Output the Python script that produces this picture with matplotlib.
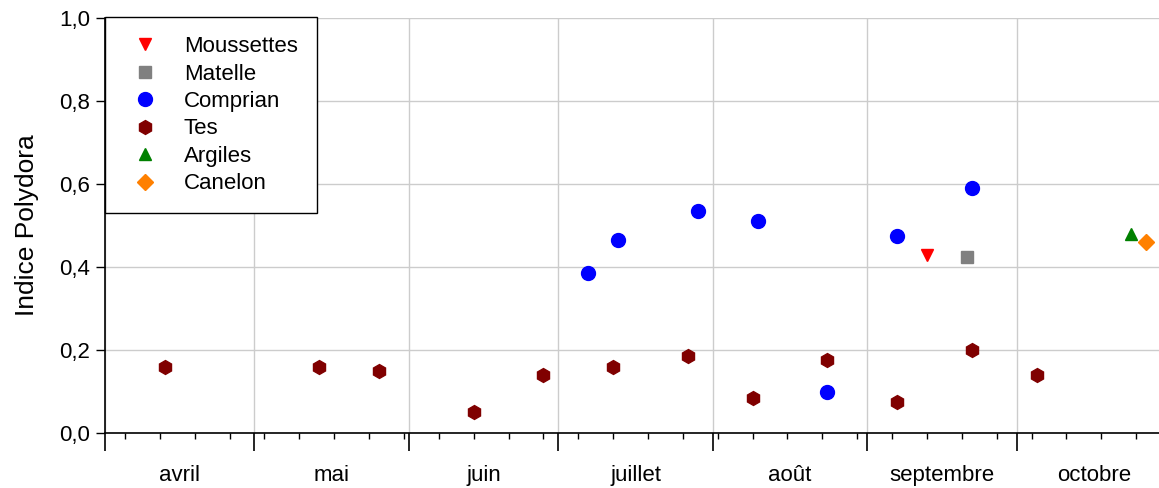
import matplotlib
matplotlib.use("Agg")
import matplotlib.pyplot as plt
import matplotlib.dates as mdates
from matplotlib.ticker import FuncFormatter, MultipleLocator, NullFormatter, FixedLocator
import pandas as pd

plt.rcParams['font.family'] = ['Liberation Sans', 'DejaVu Sans']

# sampling dates and Polydora index per site
tes_dates = ["2010-04-13", "2010-05-14", "2010-05-26", "2010-06-14", "2010-06-28",
             "2010-07-12", "2010-07-27", "2010-08-09", "2010-08-24", "2010-09-07",
             "2010-09-22", "2010-10-05"]
tes_vals = [0.16, 0.16, 0.15, 0.05, 0.14, 0.16, 0.185, 0.085, 0.175, 0.075, 0.20, 0.14]

comprian_dates = ["2010-07-07", "2010-07-13", "2010-07-29", "2010-08-10", "2010-08-24",
                  "2010-09-07", "2010-09-22"]
comprian_vals = [0.385, 0.465, 0.535, 0.51, 0.10, 0.475, 0.59]

moussettes_dates = ["2010-09-13"]
moussettes_vals = [0.43]
matelle_dates = ["2010-09-21"]
matelle_vals = [0.425]
argiles_dates = ["2010-10-24"]
argiles_vals = [0.48]
canelon_dates = ["2010-10-27"]
canelon_vals = [0.46]

months = ["avril", "mai", "juin", "juillet", "août", "septembre", "octobre"]
month_starts = ["2010-04-01", "2010-05-01", "2010-06-01", "2010-07-01",
                "2010-08-01", "2010-09-01", "2010-10-01", "2010-11-01"]

fig = plt.figure(figsize=(11.59, 4.88), dpi=100)
ax = fig.add_axes([105 / 1159, 55 / 488, 1 - 105 / 1159, 415 / 488])

d = lambda s: pd.to_datetime(s)

ax.plot(d(moussettes_dates), moussettes_vals, linestyle="none", marker="v",
        color="#ff0000", markersize=9, label="Moussettes", zorder=3)
ax.plot(d(matelle_dates), matelle_vals, linestyle="none", marker="s",
        color="#808080", markersize=8, label="Matelle", zorder=3)
ax.plot(d(comprian_dates), comprian_vals, linestyle="none", marker="o",
        color="#0000ff", markersize=10, label="Comprian", zorder=3)
ax.plot(d(tes_dates), tes_vals, linestyle="none", marker="h",
        color="#800000", markersize=10, label="Tes", zorder=3)
ax.plot(d(argiles_dates), argiles_vals, linestyle="none", marker="^",
        color="#008000", markersize=9, label="Argiles", zorder=3)
ax.plot(d(canelon_dates), canelon_vals, linestyle="none", marker="D",
        color="#ff8000", markersize=8, label="Canelon", zorder=3)

ax.set_xlim(d("2010-04-01"), d("2010-10-29 14:00"))
ax.set_ylim(0, 1.0)

# month boundaries as major ticks, weekly minor ticks
bounds = [mdates.date2num(d(s)) for s in month_starts]
ax.xaxis.set_major_locator(FixedLocator(bounds))
ax.xaxis.set_major_formatter(NullFormatter())
ax.xaxis.set_minor_locator(mdates.WeekdayLocator(byweekday=mdates.MO))
ax.tick_params(axis="x", which="major", length=13, width=1.2, direction="out")
ax.tick_params(axis="x", which="minor", length=4, width=1, direction="out")
for i, m in enumerate(months):
    mid = (bounds[i] + bounds[i + 1]) / 2
    ax.text(mid, -0.103, m, transform=ax.get_xaxis_transform(), ha="center",
            va="center", fontsize=16)

ax.yaxis.set_major_locator(MultipleLocator(0.2))
ax.yaxis.set_major_formatter(FuncFormatter(lambda v, p: f"{v:.1f}".replace(".", ",")))
ax.tick_params(axis="y", which="major", length=6.5, width=1, labelsize=16, pad=4)
ax.set_ylabel("Indice Polydora", fontsize=19, labelpad=15)

ax.grid(True, which="major", color="#cccccc", linewidth=1)
ax.set_axisbelow(True)
for s in ["top", "right"]:
    ax.spines[s].set_visible(False)
ax.spines["left"].set_linewidth(1.2)
ax.spines["bottom"].set_linewidth(1.2)

leg = ax.legend(loc="upper left", bbox_to_anchor=(0, 1.002), borderaxespad=0,
                fontsize=16, numpoints=1, frameon=True, fancybox=False,
                edgecolor="black", framealpha=1, borderpad=0.85,
                labelspacing=0.29, handlelength=1.9, handletextpad=0.8)
leg.get_frame().set_linewidth(1.0)

fig.savefig("out.png", dpi=100)
